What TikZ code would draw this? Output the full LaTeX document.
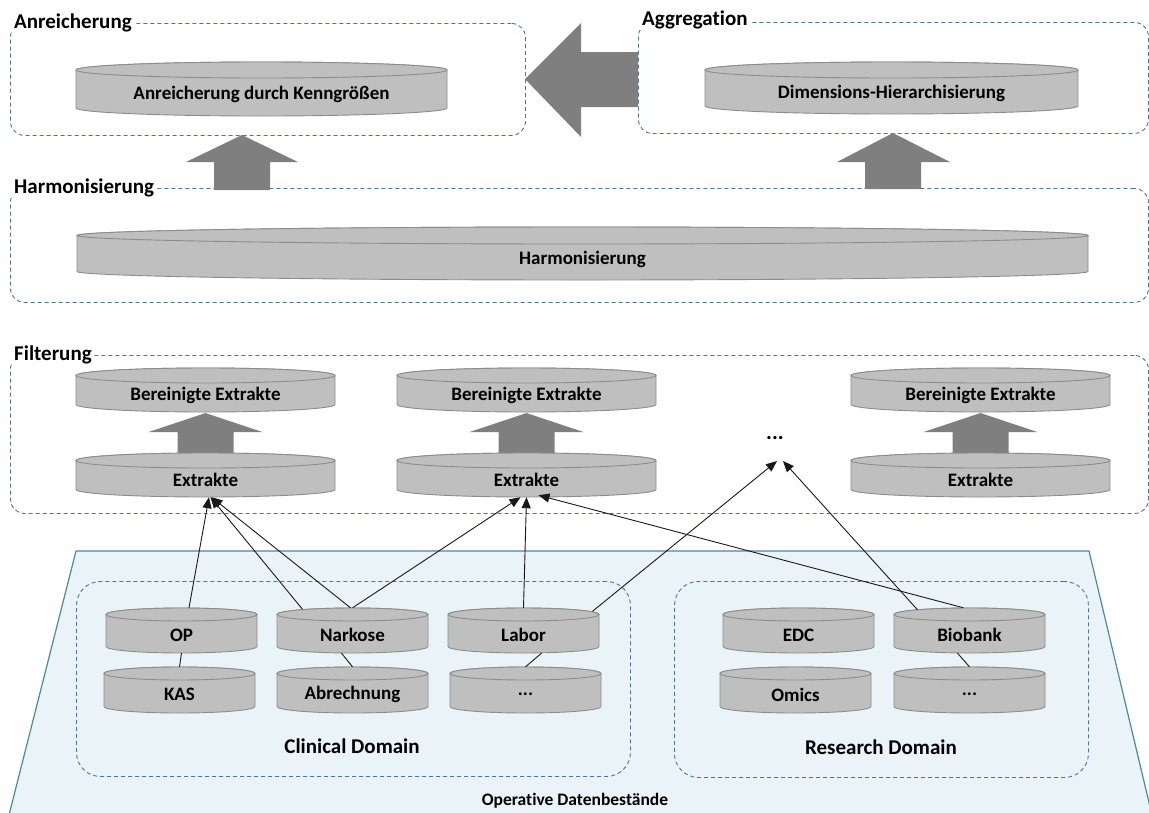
\documentclass[tikz,border=0pt]{standalone}
\usepackage{fontspec}
\setmainfont{Carlito}[Ligatures=NoCommon]
\usetikzlibrary{arrows.meta,calc}

\definecolor{frameblue}{RGB}{79,113,163}
\definecolor{cylgray}{RGB}{191,191,191}
\definecolor{cyledge}{RGB}{140,140,140}
\definecolor{blockgray}{RGB}{127,127,127}
\definecolor{opfill}{RGB}{234,244,248}
\definecolor{opedge}{RGB}{74,138,158}

\tikzset{
  cylbody/.style={fill=cylgray,draw=cyledge,line width=0.9pt},
  cylbox/.style={draw=none,inner sep=0pt,rectangle},
  cyltext/.style={font=\fontsize{19}{22}\selectfont\bfseries,text=black,inner sep=0pt},
  secframe/.style={draw=frameblue,dash pattern=on 4pt off 3pt,line width=0.9pt,rounded corners=14pt,inner sep=0pt,rectangle},
  domframe/.style={secframe,rounded corners=24pt},
  seclabel/.style={font=\fontsize{21}{25}\selectfont\bfseries,fill=white,anchor=west,inner xsep=2pt,inner ysep=1pt},
  domlabel/.style={font=\fontsize{21}{25}\selectfont\bfseries},
  blockarrow/.style={fill=blockgray,draw=none},
  link/.style={draw=black!90,line width=0.9pt,-{Triangle[length=11pt,width=9pt]}},
  tie/.style={draw=black!90,line width=0.9pt},
}

% database cylinder: name, left, right, top, bottom, cap radius, text
\newcommand{\dbcyl}[7]{%
  \pgfmathsetmacro{\cylcx}{(#2+#3)/2}%
  \pgfmathsetmacro{\cylrx}{(#3-#2)/2}%
  \pgfmathsetmacro{\cylcy}{(#4+#5)/2}%
  \pgfmathsetmacro{\cylty}{(#4+#5+#6*1.4)/2}%
  \draw[cylbody] (#2,#4+#6) -- (#2,#5-#6)
    arc[start angle=180,end angle=360,x radius=\cylrx pt,y radius=#6 pt]
    -- (#3,#4+#6)
    arc[start angle=0,end angle=180,x radius=\cylrx pt,y radius=#6 pt] -- cycle;
  \draw[cylbody] (\cylcx,#4+#6) ellipse[x radius=\cylrx pt,y radius=#6 pt];
  \node[cylbox,minimum width={(#3-#2)*1pt},minimum height={(#5-#4)*1pt}] (#1) at (\cylcx,\cylcy) {};
  \node[cyltext] at (\cylcx,\cylty) {#7};
}

\begin{document}
\begin{tikzpicture}[x=1pt,y=-1pt]
\useasboundingbox (0,0) rectangle (1149,812);

% ---------- operative data layer ----------
\path[fill=opfill,draw=opedge,line width=1.2pt]
  (76,551) -- (1089,551) -- (1152,815) -- (9,815) -- cycle;
\node[font=\fontsize{17.5}{21}\selectfont\bfseries] (opdata) at (575,801) {Operative Datenbestände};

\node[domframe,minimum width=554pt,minimum height=195pt,anchor=north west] (clin) at (76,581) {};
\node[domframe,minimum width=414pt,minimum height=196pt,anchor=north west] (res) at (674,581) {};
\node[domlabel] (clinlbl) at (352,746) {Clinical Domain};
\node[domlabel] (reslbl) at (881,747) {Research Domain};

\dbcyl{op}{106}{257}{608}{653}{6.5}{OP}
\dbcyl{nark}{277}{428}{608}{653}{6.5}{Narkose}
\dbcyl{labor}{448}{599}{608}{653}{6.5}{Labor}
\dbcyl{kas}{104}{255}{667}{713}{6.5}{KAS}
\dbcyl{abr}{277}{428}{667}{713}{6.5}{Abrechnung}
\dbcyl{cmore}{450}{601}{667}{713}{6.5}{...}
\dbcyl{edc}{723}{874}{608}{653}{6.5}{EDC}
\dbcyl{bio}{894}{1045}{608}{653}{6.5}{Biobank}
\dbcyl{omics}{720}{871}{667}{713}{6.5}{Omics}
\dbcyl{rmore}{894}{1045}{667}{713}{6.5}{...}

\draw[tie] (op.south) -- (kas.north);
\draw[tie] ($(nark.south)+(-11,0)$) -- (abr.north);
\draw[tie] ($(labor.south)+(18,0)$) -- (cmore.north);
\draw[tie] ($(bio.south)+(-12,0)$) -- (rmore.north);

% ---------- Filterung ----------
\node[secframe,minimum width=1138pt,minimum height=158pt,anchor=north west] (filt) at (10,355) {};
\node[seclabel] (filtlbl) at (12,355) {Filterung};

\foreach \cx/\n in {205.5/1,526.5/2,980.5/3}{
  \path[blockarrow] (\cx,413) -- (\cx+57,432) -- (\cx+28,432) -- (\cx+28,454)
    -- (\cx-28,454) -- (\cx-28,432) -- (\cx-57,432) -- cycle;
}
\dbcyl{bext1}{76}{335}{368}{412}{7.5}{Bereinigte Extrakte}
\dbcyl{bext2}{397}{656}{368}{412}{7.5}{Bereinigte Extrakte}
\dbcyl{bext3}{851}{1110}{368}{412}{7.5}{Bereinigte Extrakte}
\dbcyl{ext1}{76}{335}{453}{497}{7.5}{Extrakte}
\dbcyl{ext2}{397}{656}{453}{497}{7.5}{Extrakte}
\dbcyl{ext3}{851}{1110}{453}{497}{7.5}{Extrakte}
\node[font=\fontsize{22}{26}\selectfont\bfseries] (more) at (775,438) {...};
\coordinate (moreL) at (777,461);
\coordinate (moreR) at (783,461);

% ---------- source connectors ----------
\draw[link] ($(op.north)+(7.5,0)$) -- ($(ext1.south)+(3.5,0)$);
\draw[link] ($(nark.north)+(-50,1.5)$) -- ($(ext1.south)+(5,0)$);
\draw[link] ($(nark.north)+(-2,0)$) -- ($(ext1.south)+(6,0)$);
\draw[link] (nark.north) -- ($(ext2.south)+(-6,0)$);
\draw[link] (labor.north) -- ($(ext2.south)+(0,0)$);
\draw[link] ($(labor.north)+(69,3.5)$) -- (moreL);
\draw[link] ($(bio.north)+(-52,2)$) -- (moreR);
\draw[link] ($(bio.north)+(-6,0)$) -- ($(ext2.south)+(12,-2)$);

% ---------- Harmonisierung ----------
\node[secframe,minimum width=1138pt,minimum height=114pt,anchor=north west] (harm) at (10,188) {};
\node[seclabel] (harmlbl) at (12,188) {Harmonisierung};
\dbcyl{harmdb}{77}{1088}{227}{280}{8.5}{Harmonisierung}

% ---------- Anreicherung / Aggregation ----------
\node[secframe,minimum width=515pt,minimum height=112pt,anchor=north west] (anr) at (10,23) {};
\node[seclabel] (anrlbl) at (12,23) {Anreicherung};
\dbcyl{anrdb}{76}{447}{62}{116}{8}{Anreicherung durch Kenngrößen}

\node[secframe,minimum width=510pt,minimum height=111pt,anchor=north west] (agg) at (638,22) {};
\node[seclabel] (agglbl) at (640,20) {Aggregation};
\dbcyl{aggdb}{705}{1078}{62}{114}{8}{Dimensions-Hierarchisierung}

% ---------- block arrows between layers ----------
\path[blockarrow] (242,135) -- (298,162) -- (270,162) -- (270,190) -- (214,190)
  -- (214,162) -- (186,162) -- cycle;
\path[blockarrow] (893,133) -- (950,162) -- (921,162) -- (921,189) -- (865,189)
  -- (865,162) -- (837,162) -- cycle;
\path[blockarrow] (525,79) -- (581,23) -- (581,52) -- (638,52) -- (638,107)
  -- (581,107) -- (581,137) -- cycle;
\end{tikzpicture}
\end{document}
